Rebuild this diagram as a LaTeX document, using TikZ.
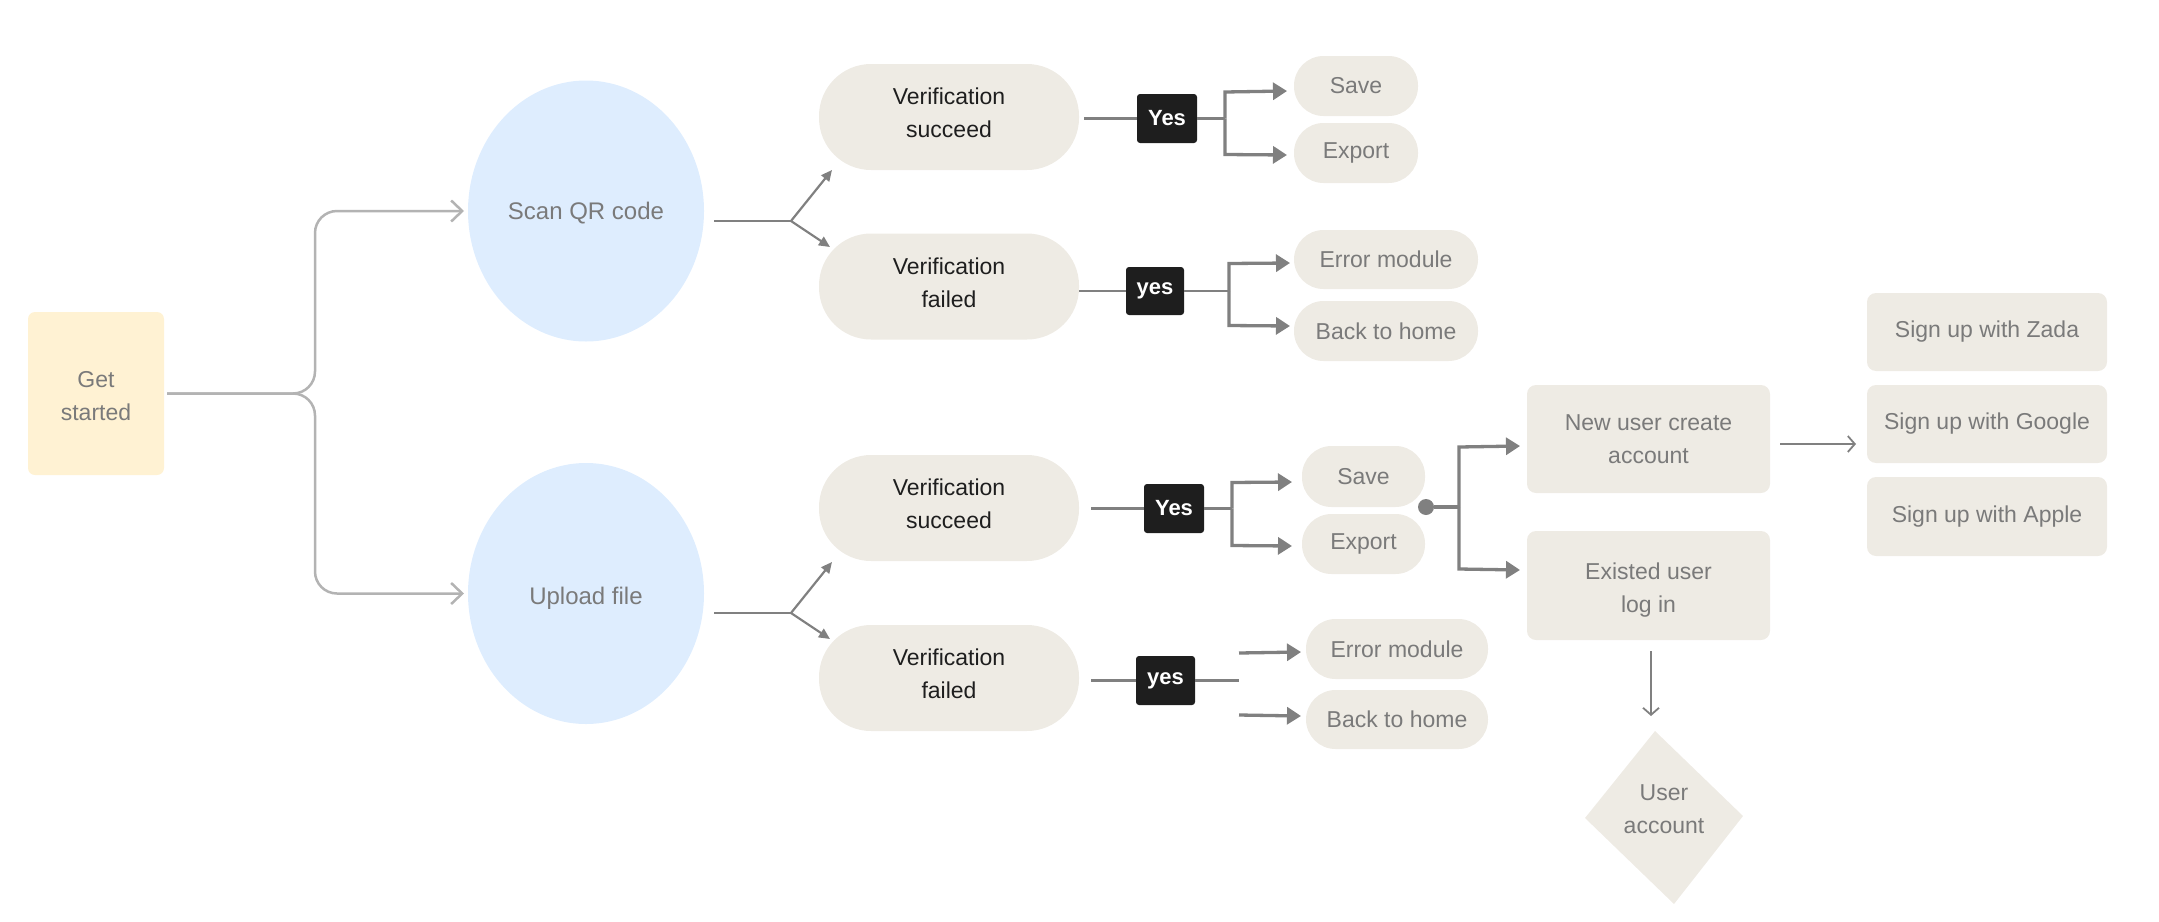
\documentclass[tikz,border=0pt]{standalone}
\usepackage{fontspec}
\setmainfont{Liberation Sans}
\usetikzlibrary{arrows.meta,shapes.geometric}
\definecolor{beige}{HTML}{EEEBE4}
\definecolor{skyfill}{HTML}{DEEDFE}
\definecolor{sandfill}{HTML}{FFF2D3}
\definecolor{txtgray}{HTML}{7A7A7A}
\definecolor{txtdark}{HTML}{1E1E1E}
\definecolor{linegray}{HTML}{808080}
\definecolor{lightline}{HTML}{B3B3B3}
\begin{document}
\begin{tikzpicture}[x=1pt,y=-1pt,
  every node/.style={inner sep=0pt,outer sep=0pt,align=center,font=\fontsize{23}{33}\selectfont},
  startbox/.style={rectangle,fill=sandfill,rounded corners=7pt,minimum width=136pt,minimum height=163pt,text=txtgray},
  oval/.style={ellipse,fill=skyfill,minimum width=236pt,minimum height=261pt,text=txtgray,font=\fontsize{24}{33}\selectfont},
  verif/.style={rectangle,fill=beige,rounded corners=52pt,minimum width=260pt,minimum height=106pt},
  vtxt/.style={text=txtdark},
  gtxt/.style={text=txtgray},
  pillsm/.style={rectangle,fill=beige,rounded corners=29.5pt,minimum height=60pt,text=txtgray},
  tag/.style={rectangle,fill=txtdark,text=white,font=\fontsize{22}{26}\selectfont\bfseries,rounded corners=3pt,minimum width=60pt,minimum height=49pt},
  card/.style={rectangle,fill=beige,rounded corners=9pt,text=txtgray},
  softconn/.style={draw=lightline,line width=2.5pt,rounded corners=22pt,-{Straight Barb[length=11pt,width=21pt]}},
  conn/.style={draw=linegray,line width=2.2pt},
  conntip/.style={conn,-{Triangle[length=11pt,width=10pt]}},
  midconn/.style={draw=linegray,line width=2.8pt},
  thickconn/.style={draw=linegray,line width=3.3pt},
  bigtip/.style={thickconn,-{Triangle[length=14pt,width=17pt]}},
  barbconn/.style={draw=linegray,line width=1.8pt,-{Straight Barb[length=7pt,width=16pt]}}
]
\useasboundingbox (0,0) rectangle (2159,921);

% main nodes
\node[startbox] (gs) at (96,393.5) {};
\node[gtxt] (gst) at ([yshift=-2.5pt]gs.center) {Get\\started};
\node[oval] (scan) at (586,211) {};
\node[gtxt,font=\fontsize{24}{33}\selectfont] (scant) at ([yshift=-2.5pt]scan.center) {Scan QR code};
\node[oval] (upload) at (586,593.5) {};
\node[gtxt,font=\fontsize{24}{33}\selectfont] (uploadt) at ([yshift=-5pt]upload.center) {Upload file};

\node[verif] (vs1) at (949,117) {};
\node[verif] (vf1) at (949,286.5) {};
\node[verif] (vs2) at (949,508) {};
\node[verif] (vf2) at (949,678) {};
\node[vtxt] (vs1t) at ([yshift=4pt]vs1.center) {Verification\\succeed};
\node[vtxt] (vf1t) at ([yshift=4pt]vf1.center) {Verification\\failed};
\node[vtxt] (vs2t) at ([yshift=4pt]vs2.center) {Verification\\succeed};
\node[vtxt] (vf2t) at ([yshift=4pt]vf2.center) {Verification\\failed};

\node[tag] (yes1) at (1167,118.5) {Yes};
\node[tag,minimum width=58pt,minimum height=48pt] (yes2) at (1155,291) {yes};
\node[tag] (yes3) at (1174,508.5) {Yes};
\node[tag,minimum width=59pt] (yes4) at (1165.5,680.5) {yes};

\node[pillsm,minimum width=124pt] (save1) at (1356,86) {Save};
\node[pillsm,minimum width=124pt] (export1) at (1356,153) {Export};
\node[pillsm,minimum width=184pt,minimum height=59pt] (err1) at (1386,259.5) {Error module};
\node[pillsm,minimum width=184pt] (back1) at (1386,331) {Back to home};

\node[pillsm,minimum width=123pt,minimum height=61pt] (save2) at (1363.5,476.5) {Save};
\node[pillsm,minimum width=123pt] (export2) at (1363.5,544) {Export};
\node[pillsm,minimum width=182pt] (err2) at (1397,649) {Error module};
\node[pillsm,minimum width=182pt,minimum height=59pt] (back2) at (1397,719.5) {Back to home};

\node[card,minimum width=243pt,minimum height=108pt] (newu) at (1648.5,439) {New user create\\account};
\node[card,minimum width=243pt,minimum height=109pt] (oldu) at (1648.5,585.5) {};
\node[gtxt] (oldut) at ([yshift=-5pt]oldu.center) {Existed user\\log in};

\node[card,minimum width=240pt,minimum height=78pt] (zada) at (1987,332) {Sign up with Zada};
\node[card,minimum width=240pt,minimum height=78pt] (google) at (1987,424) {Sign up with Google};
\node[card,minimum width=240pt,minimum height=79pt] (apple) at (1987,516.5) {Sign up with Apple};

% diamond
\coordinate (dt) at (1655,731);
\coordinate (dr) at (1743,816);
\coordinate (db) at (1674,904);
\coordinate (dl) at (1585,818);
\fill[beige] (dt) -- (dr) -- (db) -- (dl) -- cycle;
\node[gtxt] (acct) at (1664,809) {User\\account};

% brace from Get started
\coordinate (bj) at (315,393.5);
\draw[softconn,shorten <=3pt,shorten >=4pt] (gs.east) -- (bj) -- (bj |- scan.west) -- (scan.west);
\draw[softconn,shorten <=3pt,shorten >=4pt] (gs.east) -- (bj) -- (bj |- upload.west) -- (upload.west);

% ellipse splits
\coordinate (s1) at (714,221);
\coordinate (j1) at (791,221);
\coordinate (t1a) at (832,170);
\coordinate (t1b) at (830,247);
\draw[conn] (s1) -- (j1);
\draw[conntip] (j1) -- (t1a);
\draw[conntip] (j1) -- (t1b);

\coordinate (s2) at (714,613);
\coordinate (j2) at (791,613);
\coordinate (t2a) at (832,562);
\coordinate (t2b) at (830,639);
\draw[conn] (s2) -- (j2);
\draw[conntip] (j2) -- (t2a);
\draw[conntip] (j2) -- (t2b);

% top succeed
\draw[midconn,shorten <=5pt] (vs1.east |- yes1.west) -- (yes1.west);
\coordinate (b1) at (1225,118.5);
\draw[midconn] (yes1.east) -- (b1);
\draw[bigtip] (b1) -- (1225,92) -- ([xshift=-7pt]save1.west |- 0,91);
\draw[bigtip] (b1) -- (1225,154.5) -- ([xshift=-7pt]export1.west |- 0,155);

% top failed
\draw[midconn] (vf1.east |- yes2.west) -- (yes2.west);
\coordinate (b2) at (1229,291);
\draw[midconn] (yes2.east) -- (b2);
\draw[bigtip] (b2) -- (1229,263.5) -- ([xshift=-4pt]err1.west |- 0,263);
\draw[bigtip] (b2) -- (1229,325.5) -- ([xshift=-4pt]back1.west |- 0,326);

% bottom succeed
\draw[midconn,shorten <=12pt] (vs2.east |- yes3.west) -- (yes3.west);
\coordinate (b3) at (1232,508.5);
\draw[midconn] (yes3.east) -- (b3);
\draw[bigtip] (b3) -- (1232,482.5) -- ([xshift=-10pt]save2.west |- 0,482);
\draw[bigtip] (b3) -- (1232,545.5) -- ([xshift=-10pt]export2.west |- 0,546);

% bottom failed
\draw[midconn,shorten <=12pt] (vf2.east |- yes4.west) -- (yes4.west);
\coordinate (b4) at (1239,680.5);
\draw[midconn] (yes4.east) -- (b4);
\coordinate (f4a) at (1239,653);
\coordinate (f4b) at (1239,715);
\draw[bigtip] (f4a) -- ([xshift=-5pt]err2.west |- 0,652);
\draw[bigtip] (f4b) -- ([xshift=-5pt]back2.west |- 0,716);

% account branch
\node[circle,fill=linegray,minimum size=16pt] (dot) at (1426,507) {};
\coordinate (b5) at (1459,507);
\draw[thickconn] (dot) -- (b5);
\draw[bigtip] (b5) -- (1459,447) -- ([xshift=-7pt]newu.west |- 0,446);
\draw[bigtip] (b5) -- (1459,569) -- ([xshift=-7pt]oldu.west |- 0,570);

\draw[barbconn] ([xshift=10pt]newu.east |- 0,444) -- ([xshift=-11pt]google.west |- 0,444);
\draw[barbconn,shorten <=11pt] (oldu.south -| 1651,0) -- (1651,716);
\end{tikzpicture}
\end{document}
